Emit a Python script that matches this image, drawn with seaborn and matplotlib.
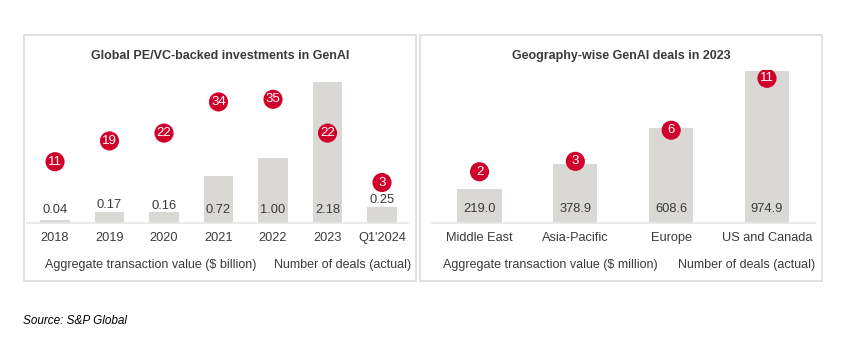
import matplotlib
matplotlib.use('Agg')
import matplotlib.pyplot as plt
import seaborn as sns
import pandas as pd
from matplotlib.patches import Rectangle

years = ['2018', '2019', '2020', '2021', '2022', '2023', "Q1'2024"]
global_value_bn = [0.04, 0.17, 0.16, 0.72, 1.00, 2.18, 0.25]
global_deals = [11, 19, 22, 34, 35, 22, 3]

regions = ['Middle East', 'Asia-Pacific', 'Europe', 'US and Canada']
region_value_mn = [219.0, 378.9, 608.6, 974.9]
region_deals = [2, 3, 6, 11]

BAR = '#D9D8D5'
RED = '#D0002B'
TXT = '#3A3A3A'
EDGE = '#DCDCDC'

W, H = 847, 350


def fx(px):
    return px / W


def fy(py):
    return 1 - py / H


def draw_panel(fig, box, ax_px, cats, vals, deals, fmt, ylim, ylim2,
               width, label_min, title, unit_text, xlim, legend_x):
    fig.patches.append(Rectangle((fx(box[0]), fy(box[3])), fx(box[2] - box[0]),
                                 (box[3] - box[1]) / H, transform=fig.transFigure,
                                 fill=False, edgecolor=EDGE, linewidth=1.2))
    ax = fig.add_axes([fx(ax_px[0]), fy(ax_px[3]), fx(ax_px[2] - ax_px[0]),
                       (ax_px[3] - ax_px[1]) / H])
    df = pd.DataFrame({'cat': cats, 'val': vals, 'deals': deals, 'pos': range(len(cats))})
    sns.barplot(data=df, x='cat', y='val', color=BAR, width=width, ax=ax,
                saturation=1, edgecolor='none')
    ax.set_xlim(*xlim)
    ax.set_ylim(*ylim)
    ax.set_xlabel('')
    ax.set_ylabel('')
    ax.set_yticks([])
    ax.tick_params(axis='x', length=0, pad=7, labelsize=9.2, colors=TXT)
    for s in ['top', 'right', 'left']:
        ax.spines[s].set_visible(False)
    ax.spines['bottom'].set_color('#E6E6E6')
    ax.spines['bottom'].set_linewidth(1.2)
    ax.patch.set_alpha(0)
    for i, v in enumerate(vals):
        # small bars carry the label on top, taller bars inside at the base
        y = max(v, label_min) if v < 3 * label_min else label_min
        ax.annotate(fmt.format(v), (i, y), xytext=(0, 0.5),
                    textcoords='offset points', ha='center', va='bottom',
                    fontsize=9.3, color=TXT)

    ax2 = ax.twinx()
    sns.scatterplot(data=df, x='pos', y='deals', ax=ax2, color=RED, s=190,
                    edgecolor='none', legend=False, zorder=5)
    ax2.set_ylim(*ylim2)
    ax2.set_xlim(*xlim)
    ax2.axis('off')
    for i, d in enumerate(deals):
        ax2.text(i, d, str(d), ha='center', va='center', color='white',
                 fontsize=9.5, zorder=6)

    cx = (box[0] + box[2]) / 2
    fig.text(fx(cx), fy(56), title, ha='center', va='center', fontsize=9,
             fontweight='bold', color=TXT)
    fig.text(fx(legend_x[0]), fy(265), unit_text, ha='left', va='center',
             fontsize=9, color=TXT)
    fig.text(fx(legend_x[1]), fy(265), 'Number of deals (actual)', ha='left',
             va='center', fontsize=9, color=TXT)
    return ax


plt.rcParams['font.family'] = ['Liberation Sans', 'DejaVu Sans']
fig = plt.figure(figsize=(8.47, 3.5), dpi=100)

draw_panel(fig, (24, 35, 416, 281), (27, 70, 408, 222.7), years, global_value_bn,
           global_deals, '{:.2f}', (0, 2.361), (-12.46, 46.27), 0.55, 0.1,
           'Global PE/VC-backed investments in GenAI',
           'Aggregate transaction value ($ billion)', (-0.514, 6.477), (45, 274))

draw_panel(fig, (420, 35, 822, 281), (432, 70, 815, 222.7), regions, region_value_mn,
           region_deals, '{:.1f}', (0, 983.3), (-2.91, 11.80), 0.46, 45,
           'Geography-wise GenAI deals in 2023',
           'Aggregate transaction value ($ million)', (-0.496, 3.501), (443, 678))

fig.text(fx(23), fy(321), 'Source: S&P Global', ha='left', va='center',
         fontsize=8.5, style='italic', color='black')

fig.savefig('out.png', dpi=100)
